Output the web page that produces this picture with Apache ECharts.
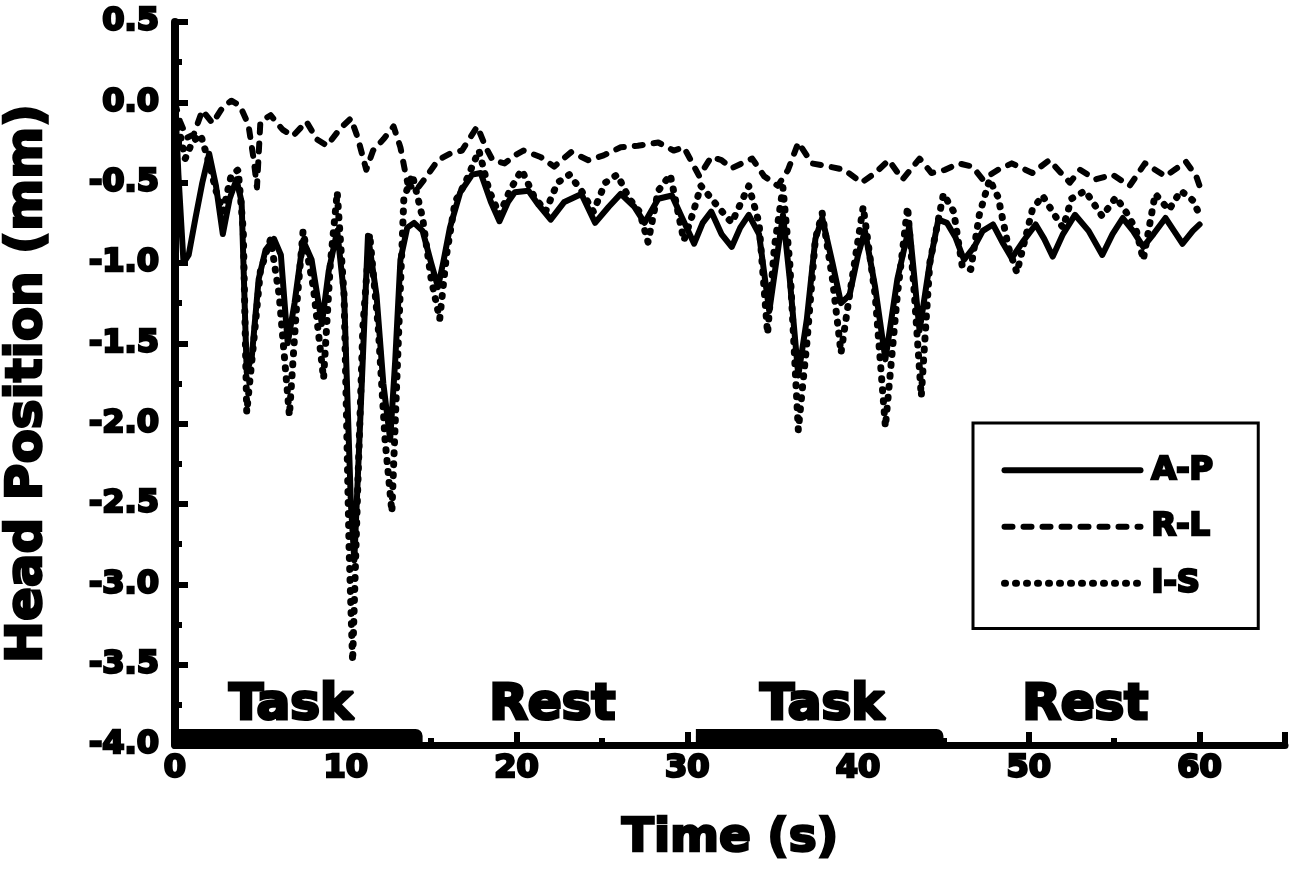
<!DOCTYPE html>
<html>
<head>
<meta charset="utf-8">
<title>Head Position</title>
<script src="https://cdn.jsdelivr.net/npm/echarts@6/dist/echarts.min.js"></script>
<style>
  html, body { margin: 0; padding: 0; background: #fff; }
  #chart { width: 1294px; height: 879px; }
</style>
</head>
<body>
<div id="chart"></div>
<script>
// Anterior-posterior head position (mm) over time (s)
const apTime = [0, 0.2, 0.5, 0.8, 1.2, 1.6, 2.0, 2.4, 2.8, 3.2, 3.6, 3.9, 4.2, 4.5, 4.9, 5.3, 5.8, 6.2, 6.6, 7.0,
  7.5, 8.0, 8.6, 9.0, 9.5, 9.9, 10.3, 10.5, 10.8, 11.3, 11.8, 12.2, 12.6, 12.9, 13.2, 13.6, 14.0, 14.5, 15.0, 15.4,
  15.7, 16.1, 16.7, 17.4, 17.9, 18.5, 19.0, 19.5, 19.9, 20.7, 21.3, 22.0, 22.8, 23.8, 24.6, 25.4, 26.1, 26.9, 27.5, 28.3,
  29.1, 29.7, 30.4, 30.9, 31.4, 32.0, 32.6, 33.1, 33.6, 34.2, 34.8, 35.2, 35.6, 36.0, 36.5, 37.0, 37.5, 37.9, 38.5, 39.0,
  39.5, 40.0, 40.4, 41.0, 41.6, 42.3, 43.0, 43.6, 44.2, 44.7, 45.2, 45.7, 46.2, 46.8, 47.3, 47.9, 48.5, 49.0, 49.7, 50.4,
  50.9, 51.4, 52.0, 52.7, 53.5, 54.3, 54.9, 55.5, 56.1, 56.7, 57.3, 58.0, 58.5, 59.0, 59.6, 60.0];
const apPos = [0.02, -0.45, -1.0, -0.95, -0.72, -0.5, -0.32, -0.52, -0.82, -0.6, -0.48, -0.62, -1.68, -1.58, -1.1, -0.92, -0.85, -0.95, -1.5, -1.25,
  -0.86, -0.98, -1.38, -1.05, -0.8, -1.2, -2.5, -2.85, -2.1, -0.83, -1.2, -1.75, -2.1, -1.6, -0.98, -0.78, -0.75, -0.8, -1.0, -1.15,
  -1.0, -0.78, -0.56, -0.45, -0.44, -0.62, -0.74, -0.62, -0.56, -0.55, -0.64, -0.73, -0.62, -0.57, -0.75, -0.65, -0.57, -0.65, -0.75, -0.6,
  -0.58, -0.72, -0.88, -0.75, -0.68, -0.82, -0.9, -0.78, -0.7, -0.82, -1.3, -1.0, -0.7, -1.1, -1.7, -1.35, -0.85, -0.72, -1.0, -1.25,
  -1.2, -0.95, -0.8, -1.15, -1.6, -1.1, -0.77, -1.42, -1.0, -0.73, -0.75, -0.84, -0.98, -0.9, -0.8, -0.76, -0.88, -0.97, -0.86, -0.76,
  -0.85, -0.96, -0.82, -0.7, -0.8, -0.95, -0.82, -0.72, -0.8, -0.9, -0.82, -0.72, -0.8, -0.88, -0.8, -0.76];

// Right-left head position
const rlTime = [0, 0.3, 0.7, 1.1, 1.6, 2.2, 2.8, 3.3, 3.8, 4.3, 4.6, 4.8, 5.0, 5.6, 6.3, 6.9, 7.7, 8.3, 8.9, 9.7,
  10.3, 10.7, 11.2, 11.6, 12.2, 12.8, 13.2, 13.6, 14.1, 14.6, 15.4, 16.1, 16.8, 17.7, 18.2, 18.6, 19.3, 19.9, 20.4, 21.4,
  22.2, 23.2, 24.2, 25.1, 26.1, 27.1, 28.3, 29.2, 29.8, 30.2, 30.7, 31.4, 32.0, 32.6, 33.2, 33.8, 34.5, 35.3, 35.9, 36.5,
  37.3, 38.3, 39.2, 40.2, 41.0, 41.8, 42.6, 43.6, 44.3, 45.1, 45.9, 46.7, 47.3, 48.2, 49.0, 50.2, 51.2, 52.4, 53.0, 53.9,
  54.9, 55.9, 56.8, 58.0, 59.2, 59.8, 60.0];
const rlPos = [0.0, -0.12, -0.22, -0.2, -0.05, -0.13, -0.03, 0.01, -0.02, -0.14, -0.35, -0.53, -0.12, -0.08, -0.17, -0.21, -0.12, -0.23, -0.27, -0.16,
  -0.1, -0.22, -0.42, -0.3, -0.23, -0.15, -0.28, -0.5, -0.55, -0.48, -0.36, -0.32, -0.3, -0.15, -0.28, -0.36, -0.38, -0.33, -0.3, -0.34,
  -0.4, -0.31, -0.36, -0.33, -0.28, -0.27, -0.25, -0.3, -0.28, -0.36, -0.46, -0.34, -0.36, -0.41, -0.38, -0.35, -0.46, -0.52, -0.42, -0.25,
  -0.38, -0.4, -0.42, -0.5, -0.44, -0.36, -0.48, -0.35, -0.44, -0.42, -0.38, -0.4, -0.48, -0.42, -0.38, -0.44, -0.36, -0.5, -0.42, -0.48,
  -0.45, -0.52, -0.38, -0.46, -0.37, -0.46, -0.52];

// Inferior-superior head position
const isTime = [0.2, 0.6, 1.0, 1.5, 2.0, 2.4, 2.8, 3.3, 3.7, 4.0, 4.2, 4.6, 5.0, 5.6, 6.1, 6.7, 7.1, 7.5, 8.1, 8.7,
  9.1, 9.5, 9.9, 10.2, 10.4, 10.7, 11.0, 11.4, 11.9, 12.3, 12.7, 13.0, 13.4, 13.9, 14.5, 15.0, 15.5, 15.9, 16.4, 17.0,
  17.8, 18.4, 19.0, 19.6, 20.3, 21.0, 21.7, 22.4, 23.1, 23.8, 24.5, 25.2, 25.9, 26.6, 27.2, 27.7, 28.3, 29.0, 29.8, 30.3,
  30.8, 31.8, 32.6, 33.6, 34.2, 34.7, 35.1, 35.6, 36.0, 36.5, 37.0, 37.5, 37.9, 38.5, 39.0, 39.5, 40.3, 41.0, 41.6, 42.3,
  42.9, 43.3, 43.7, 44.2, 45.0, 45.6, 46.1, 46.6, 47.1, 47.7, 48.2, 48.8, 49.3, 50.2, 50.8, 51.5, 52.0, 52.5, 53.3, 54.3,
  55.1, 55.8, 56.3, 56.7, 57.4, 58.2, 58.9, 59.6, 60.0];
const isPos = [-0.15, -0.35, -0.25, -0.2, -0.38, -0.55, -0.68, -0.45, -0.42, -0.8, -1.93, -1.5, -1.05, -0.85, -1.2, -1.95, -1.3, -0.8, -1.15, -1.72,
  -1.0, -0.56, -1.2, -2.8, -3.48, -2.4, -1.4, -0.82, -1.4, -2.1, -2.55, -1.7, -0.6, -0.45, -0.72, -1.1, -1.35, -0.95, -0.62, -0.5,
  -0.3, -0.55, -0.7, -0.55, -0.42, -0.58, -0.68, -0.5, -0.45, -0.55, -0.68, -0.5, -0.45, -0.6, -0.68, -0.87, -0.55, -0.45, -0.86, -0.7,
  -0.52, -0.65, -0.75, -0.52, -0.75, -1.44, -0.9, -0.53, -1.0, -2.04, -1.5, -0.85, -0.69, -1.1, -1.56, -1.2, -0.65, -1.2, -2.02, -1.2,
  -0.65, -1.2, -1.83, -1.0, -0.57, -0.68, -1.02, -1.04, -0.7, -0.48, -0.59, -0.9, -1.06, -0.67, -0.58, -0.7, -0.78, -0.6, -0.55, -0.71,
  -0.59, -0.7, -0.8, -0.98, -0.57, -0.67, -0.55, -0.61, -0.7];

// Block design: task / rest periods (s)
const periodName = ['Task', 'Rest', 'Task', 'Rest'];
const periodStart = [0, 14.5, 30.5, 45];
const periodEnd = [14.5, 30.5, 45, 60];
const periodLabelAt = [6.8, 22.1, 37.9, 53.3];

// Axis ticks
const yTicks = ['0.5', '0.0', '-0.5', '-1.0', '-1.5', '-2.0', '-2.5', '-3.0', '-3.5', '-4.0'];
const xTicks = ['0', '10', '20', '30', '40', '50', '60'];

const FONT = '"DejaVu Sans", "Liberation Sans", sans-serif';
const zip = (t, v) => t.map((x, i) => [x, v[i]]);
const periodData = periodStart.map((s, i) => [s, periodEnd[i], i]);

// Line styles shared by the series and their legend keys
const styleAP = { color: '#000', width: 6, type: 'solid', cap: 'round', join: 'round' };
const styleRL = { color: '#000', width: 6, type: [8, 11], cap: 'round', join: 'round' };
const styleIS = { color: '#000', width: 7, type: [1, 10], cap: 'round', join: 'round' };

const chart = echarts.init(document.getElementById('chart'), null, { renderer: 'canvas' });

const boldText = (size, stroke) => ({
  fontFamily: FONT, fontWeight: 'bold', fontSize: size, color: '#000',
  textBorderColor: '#000', textBorderWidth: stroke
});

chart.setOption({
  animation: false,
  backgroundColor: '#fff',
  grid: { left: 175, right: 9, top: 22, bottom: 134, containLabel: false, outerBoundsMode: 'none' },
  legend: {
    data: [
      { name: 'A-P', itemStyle: { opacity: 0 }, lineStyle: styleAP },
      { name: 'R-L', itemStyle: { opacity: 0 }, lineStyle: styleRL },
      { name: 'I-S', itemStyle: { opacity: 0 }, lineStyle: styleIS }
    ],
    orient: 'vertical',
    left: 973,
    top: 423,
    padding: [30, 44, 28, 28],
    itemGap: 22,
    itemWidth: 136,
    itemHeight: 24,
    borderColor: '#000',
    borderWidth: 3,
    textStyle: { ...boldText(32, 2.5), padding: [0, 0, 0, 6] },
    selectedMode: false
  },
  xAxis: {
    type: 'value',
    min: 0,
    max: 65,
    interval: 10,
    name: 'Time (s)',
    nameLocation: 'middle',
    nameGap: 70,
    nameTextStyle: boldText(47, 2.5),
    axisLine: { onZero: false, lineStyle: { color: '#000', width: 7 } },
    axisTick: { inside: true, length: 13, lineStyle: { color: '#000', width: 6 } },
    minorTick: { show: true, splitNumber: 2, length: 7, lineStyle: { color: '#000', width: 6 } },
    splitLine: { show: false },
    axisLabel: {
      margin: 8,
      showMaxLabel: false,
      ...boldText(32, 2.5),
      formatter: (v) => {
        const s = String(Math.round(v));
        return xTicks.indexOf(s) >= 0 ? s : '';
      }
    }
  },
  yAxis: {
    type: 'value',
    min: -4,
    max: 0.5,
    interval: 0.5,
    name: 'Head Position (mm)',
    nameLocation: 'middle',
    nameGap: 122,
    nameTextStyle: boldText(50, 2.5),
    axisLine: { onZero: false, lineStyle: { color: '#000', width: 8 } },
    axisTick: { inside: true, length: 13, lineStyle: { color: '#000', width: 6 } },
    minorTick: { show: true, splitNumber: 2, length: 7, lineStyle: { color: '#000', width: 6 } },
    splitLine: { show: false },
    axisLabel: {
      margin: 16,
      ...boldText(32, 2.5),
      formatter: (v) => {
        const s = v.toFixed(1);
        return yTicks.indexOf(s) >= 0 ? s : '';
      }
    }
  },
  series: [
    {
      name: 'I-S',
      type: 'line',
      data: zip(isTime, isPos),
      symbol: 'none',
      itemStyle: { color: '#000' },
      lineStyle: styleIS,
      z: 3
    },
    {
      name: 'R-L',
      type: 'line',
      data: zip(rlTime, rlPos),
      symbol: 'none',
      itemStyle: { color: '#000' },
      lineStyle: styleRL,
      z: 3
    },
    {
      name: 'A-P',
      type: 'line',
      data: zip(apTime, apPos),
      symbol: 'none',
      itemStyle: { color: '#000' },
      lineStyle: styleAP,
      z: 4
    },
    {
      name: 'periods',
      type: 'custom',
      data: periodData,
      encode: { x: [0, 1] },
      clip: false,
      z: 5,
      renderItem: (params, api) => {
        const i = api.value(2);
        const base = api.coord([api.value(0), -4]);
        const top = api.coord([api.value(1), -3.9]);
        const mid = api.coord([periodLabelAt[i], -3.76]);
        const children = [];
        if (periodName[i] === 'Task') {
          children.push({
            type: 'rect',
            shape: { x: base[0], y: top[1], width: top[0] - base[0], height: base[1] - top[1], r: [0, 7, 0, 0] },
            style: { fill: '#000' }
          });
        }
        children.push({
          type: 'text',
          x: mid[0],
          y: mid[1],
          style: {
            text: periodName[i],
            fill: '#000',
            stroke: '#000',
            lineWidth: 3,
            font: 'bold 50px ' + FONT,
            align: 'center',
            verticalAlign: 'middle'
          }
        });
        return { type: 'group', children };
      }
    }
  ]
});
</script>
</body>
</html>
